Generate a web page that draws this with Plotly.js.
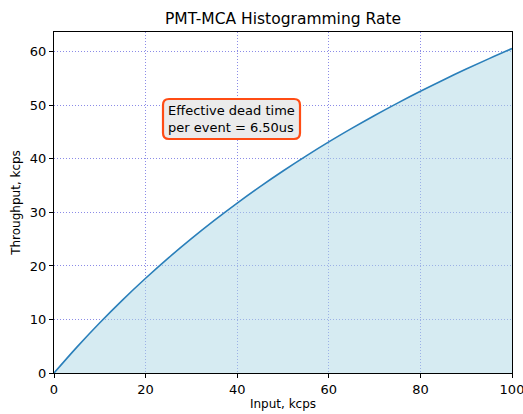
<!DOCTYPE html>
<html>
<head>
<meta charset="utf-8">
<script src="https://cdn.plot.ly/plotly-3.0.1.min.js"></script>
<style>html,body{margin:0;padding:0;background:#fff;}#chart{width:523px;height:414px;}</style>
</head>
<body>
<div id="chart"></div>
<script>
var inputKcps = [0, 5, 10, 15, 20, 25, 30, 35, 40, 45, 50, 55, 60, 65, 70, 75, 80, 85, 90, 95, 100];
var throughputKcps = [0, 4.84, 9.39, 13.67, 17.70, 21.51, 25.10, 28.51, 31.75, 34.82, 37.74, 40.52, 43.17, 45.69, 48.11, 50.42, 52.63, 54.75, 56.78, 58.73, 60.61];
var xTicks = [0, 20, 40, 60, 80, 100];
var yTicks = [0, 10, 20, 30, 40, 50, 60];
var titleText = "PMT-MCA Histogramming Rate";
var xLabel = "Input, kcps";
var yLabel = "Throughput, kcps";
var noteText = "Effective dead time<br>per event = 6.50us";

var font = "DejaVu Sans, sans-serif";
var L = 54, R = 11, T = 32, B = 41, W = 523, H = 414;
var pw = W - L - R, ph = H - T - B;
function px2x(p){ return (p - L) / pw; }
function py2y(p){ return (H - B - p) / ph; }
// rounded box in paper coords (pixel based)
var bx0 = 163, bx1 = 300, by0 = 99, by1 = 139, rr = 6;
function P(x, y){ return px2x(x).toFixed(5) + "," + py2y(y).toFixed(5); }
var path = "M" + P(bx0 + rr, by0) + " L" + P(bx1 - rr, by0) +
  " Q" + P(bx1, by0) + " " + P(bx1, by0 + rr) +
  " L" + P(bx1, by1 - rr) + " Q" + P(bx1, by1) + " " + P(bx1 - rr, by1) +
  " L" + P(bx0 + rr, by1) + " Q" + P(bx0, by1) + " " + P(bx0, by1 - rr) +
  " L" + P(bx0, by0 + rr) + " Q" + P(bx0, by0) + " " + P(bx0 + rr, by0) + " Z";

var traces = [{
  x: inputKcps, y: throughputKcps, type: "scatter", mode: "lines",
  line: {color: "#2a7fba", width: 1.6, shape: "spline"},
  fill: "tozeroy", fillcolor: "rgba(173,216,230,0.5)",
  hoverinfo: "skip"
}];

var axisCommon = {
  showline: true, mirror: true, linecolor: "#000", linewidth: 1,
  ticks: "outside", ticklen: 4, tickcolor: "#000", tickwidth: 1,
  showgrid: true, gridcolor: "rgba(110,110,225,0.8)", griddash: "1px,2px", gridwidth: 1,
  zeroline: false, tickfont: {family: font, size: 13, color: "#000"},
  ticklabeloverflow: "allow",
  layer: "above traces"
};

var layout = {
  width: W, height: H,
  margin: {l: L, r: R, t: T, b: B},
  paper_bgcolor: "#fff", plot_bgcolor: "#fff",
  showlegend: false,
  title: {text: titleText, font: {family: font, size: 15.5, color: "#000"}, x: 0.5 * (L + W - R) / W, xanchor: "center", y: 1 - 19 / H, yanchor: "middle"},
  xaxis: Object.assign({}, axisCommon, {
    range: [0, 100], tickvals: xTicks, ticktext: xTicks.map(String),
    title: {text: xLabel, font: {family: font, size: 12, color: "#000"}, standoff: 4}
  }),
  yaxis: Object.assign({}, axisCommon, {
    range: [0, 63.7], tickvals: yTicks, ticktext: yTicks.map(String),
    title: {text: yLabel, font: {family: font, size: 12, color: "#000"}, standoff: 6}
  }),
  shapes: [{
    type: "path", xref: "paper", yref: "paper", path: path,
    fillcolor: "#ebebeb", line: {color: "#ff4c14", width: 2.2}, layer: "above"
  }],
  annotations: [{
    xref: "paper", yref: "paper",
    x: px2x((bx0 + bx1) / 2), y: py2y((by0 + by1) / 2),
    xanchor: "center", yanchor: "middle", align: "left",
    text: noteText, showarrow: false,
    font: {family: font, size: 13, color: "#000"}
  }]
};

Plotly.newPlot("chart", traces, layout, {displayModeBar: false, staticPlot: true});
</script>
</body>
</html>
